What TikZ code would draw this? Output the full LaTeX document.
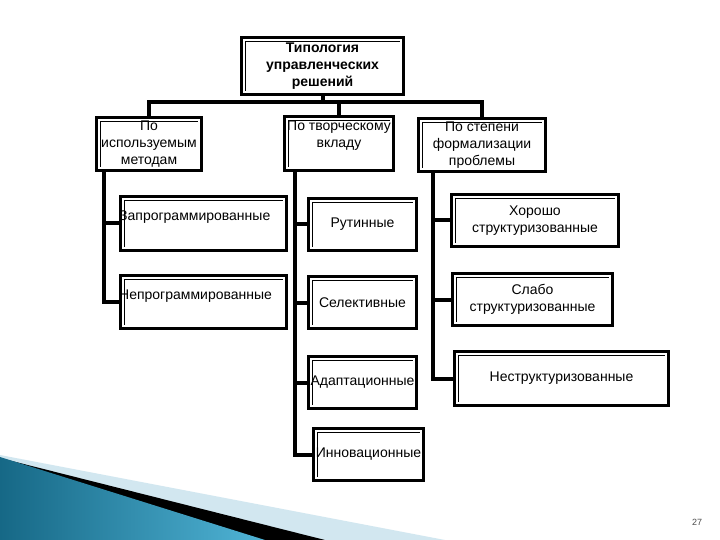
\documentclass[tikz,border=0pt]{standalone}
\usepackage{fontspec}
\setmainfont{Liberation Sans}
\usetikzlibrary{calc}
\definecolor{tealdark}{RGB}{22,104,134}
\definecolor{teallight}{RGB}{80,180,214}
\definecolor{paleblue}{RGB}{210,231,240}

\begin{document}
\begin{tikzpicture}[x=1pt,y=-1pt,
  blok/.style={draw,line width=3.5pt,inner sep=0.5pt,align=center,
    font=\fontsize{14}{17}\selectfont,
    path picture={\draw[line width=0.8pt]
      ([shift={(3.6pt,3.6pt)}]path picture bounding box.south west) |-
      ([shift={(-3.6pt,-3.6pt)}]path picture bounding box.north east);}},
  txt/.style={inner sep=0pt,align=center,font=\fontsize{14}{17}\selectfont},
  conn/.style={line width=4pt}]
\fill[white] (0,0) rectangle (720,540);
\useasboundingbox (0,0) rectangle (720,540);

\fill[paleblue] (0,455) -- (445,540) -- (0,540) -- cycle;
\fill[black] (0,458) -- (325,540) -- (0,540) -- cycle;
\shade[left color=tealdark,right color=teallight] (0,457) -- (265,540) -- (0,540) -- cycle;

\node[blok,minimum width=162pt,minimum height=57pt] (tip) at (322.5,66)
  {\bfseries Типология\\\bfseries управленческих\\\bfseries решений};

\node[blok,minimum width=105pt,minimum height=53pt] (meth) at (149,144) {По\\используемым\\методам};
\node[blok,minimum width=109pt,minimum height=54pt] (tvorch) at (339,143.5) {};
\node[txt] (tvorchT) at (339,136) {По творческому\\вкладу};
\node[blok,minimum width=127pt,minimum height=53pt] (form) at (482,145) {По степени\\формализации\\проблемы};

\node[blok,minimum width=166pt,minimum height=54pt] (zapr) at (203.5,223.5) {};
\node[txt,anchor=west] (zaprT) at (119,217) {Запрограммированные};
\node[blok,minimum width=166pt,minimum height=53pt] (nepr) at (203.5,302) {};
\node[txt,anchor=west] (neprT) at (119,296) {Непрограммированные};

\node[blok,minimum width=108pt,minimum height=52pt] (rutin) at (362.5,224.5) {Рутинные};
\node[blok,minimum width=108pt,minimum height=52pt] (selekt) at (362.5,302.5) {Селективные};
\node[blok,minimum width=108pt,minimum height=52pt] (adapt) at (362.5,382.5) {Адаптационные};
\node[blok,minimum width=110pt,minimum height=52pt] (innov) at (368.5,454.5) {Инновационные};

\node[blok,minimum width=167pt,minimum height=52pt] (khor) at (535,220.5) {Хорошо\\структуризованные};
\node[blok,minimum width=160pt,minimum height=52pt] (slab) at (532.5,299.5) {Слабо\\структуризованные};
\node[blok,minimum width=214pt,minimum height=54pt] (nestr) at (561.5,378.5) {Неструктуризованные};

\node[font=\fontsize{9}{10}\selectfont,text=black!70] (pnum) at (697,522) {27};

\coordinate (bus) at (0,102);
\coordinate (sL) at (104,0);
\coordinate (sM) at (295,0);
\coordinate (sR) at (433,0);

\draw[conn] (tip.south) -- (tip.south |- bus);
\draw[conn] (meth.north) |- (form.north |- bus) -- (form.north);
\draw[conn] (tvorch.north |- bus) -- (tvorch.north);

\foreach \n in {zapr,nepr} \draw[conn] (meth.south -| sL) |- (\n.west);
\foreach \n in {rutin,selekt,adapt,innov} \draw[conn] (tvorch.south -| sM) |- (\n.west);
\foreach \n in {khor,slab,nestr} \draw[conn] (form.south -| sR) |- (\n.west);
\end{tikzpicture}
\end{document}
